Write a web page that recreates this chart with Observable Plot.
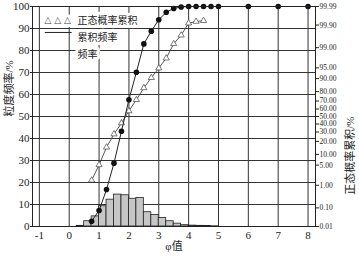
<!DOCTYPE html>
<html><head><meta charset="utf-8">
<script src="https://cdn.jsdelivr.net/npm/d3@7"></script>
<script src="https://cdn.jsdelivr.net/npm/@observablehq/plot@0.6"></script>
<style>body{margin:0;background:#fff}</style>
</head><body><div id="chart"></div>
<script>
// ---- data ----
const xTicks = [-1, 0, 1, 2, 3, 4, 5, 6, 7, 8];
const yTicks = [0, 10, 20, 30, 40, 50, 60, 70, 80, 90, 100];
const rightTicks = [0.01, 0.1, 1, 5, 10, 20, 30, 40, 50, 60, 70, 80, 90, 95, 99, 99.9, 99.99];

// frequency histogram (bin left edges, bin width 0.25 phi)
const freqPhi = [0.25, 0.5, 0.75, 1.0, 1.25, 1.5, 1.75, 2.0, 2.25, 2.5, 2.75, 3.0, 3.25, 3.5, 3.75, 4.0, 4.25, 4.5, 4.75];
const freqPct = [0.3, 2.4, 4.6, 9.2, 12.2, 14.5, 14.2, 12.6, 13.0, 6.5, 5.2, 3.9, 2.4, 1.3, 0.6, 0.4, 0.3, 0.2, 0.1];
const binWidth = 0.25;

// cumulative frequency (left axis)
const cumPhi = [0.75, 1.0, 1.25, 1.5, 1.75, 2.0, 2.25, 2.5, 2.75, 3.0, 3.25, 3.5, 3.75, 4.0, 4.25, 4.5, 4.75, 5, 6, 7, 8];
const cumPct = [2.4, 7.3, 16.8, 28.8, 43.3, 57.6, 70.1, 83.0, 88.8, 94.0, 97.4, 99.1, 99.8, 100, 100, 100, 100, 100, 100, 100, 100];

// normal probability cumulative (right, probability axis, %)
const normPhi = [0.75, 1.0, 1.25, 1.5, 1.75, 2.0, 2.25, 2.5, 2.75, 3.0, 3.25, 3.5, 3.75, 4.0, 4.25, 4.5];
const normPct = [1.55, 5.1, 14.9, 27.6, 41.2, 57.4, 71.4, 83.3, 90.5, 94.9, 97.56, 99.30, 99.70, 99.92, 99.934, 99.94];

// ---- probability scale helper ----
function probit(p) {
  const a=[-3.969683028665376e+01,2.209460984245205e+02,-2.759285104469687e+02,1.383577518672690e+02,-3.066479806614716e+01,2.506628277459239e+00];
  const b=[-5.447609879822406e+01,1.615858368580409e+02,-1.556989798598866e+02,6.680131188771972e+01,-1.328068155288572e+01];
  const c=[-7.784894002430293e-03,-3.223964580411365e-01,-2.400758277161838e+00,-2.549732539343734e+00,4.374664141464968e+00,2.938163982698783e+00];
  const d=[7.784695709041462e-03,3.224671290700398e-01,2.445134137142996e+00,3.754408661907416e+00];
  const pl = 0.02425, ph = 1 - pl;
  let q, r;
  if (p < pl) { q = Math.sqrt(-2*Math.log(p)); return (((((c[0]*q+c[1])*q+c[2])*q+c[3])*q+c[4])*q+c[5])/((((d[0]*q+d[1])*q+d[2])*q+d[3])*q+1); }
  if (p <= ph) { q = p - 0.5; r = q*q; return (((((a[0]*r+a[1])*r+a[2])*r+a[3])*r+a[4])*r+a[5])*q/(((((b[0]*r+b[1])*r+b[2])*r+b[3])*r+b[4])*r+1); }
  q = Math.sqrt(-2*Math.log(1-p)); return -(((((c[0]*q+c[1])*q+c[2])*q+c[3])*q+c[4])*q+c[5])/((((d[0]*q+d[1])*q+d[2])*q+d[3])*q+1);
}
const zMax = probit(0.9999);
const toLeft = p => 50 + 50 * probit(p / 100) / zMax;

const hist = freqPhi.map((x, i) => ({x1: x, x2: x + binWidth, y: freqPct[i]}));
const cum = cumPhi.map((x, i) => ({x, y: cumPct[i]}));
const norm = normPhi.map((x, i) => ({x, y: toLeft(normPct[i])}));
const rightMap = new Map(rightTicks.map(p => [toLeft(p), p.toFixed(2)]));

const serif = "Liberation Serif, DejaVu Serif, Noto Sans CJK SC, serif";
const ink = "#222";

const chart = Plot.plot({
  width: 359, height: 261,
  marginLeft: 32, marginRight: 44, marginTop: 6, marginBottom: 35,
  x: {domain: [-1.23, 8.25]},
  y: {domain: [0, 100]},
  style: {fontFamily: serif, background: "white", color: ink},
  marks: [
    Plot.ruleX(xTicks, {stroke: "#333", strokeWidth: 1}),
    Plot.ruleY(yTicks, {stroke: "#333", strokeWidth: 1}),
    Plot.rectY(hist, {x1: "x1", x2: "x2", y: "y", fill: "#c6c6c6", stroke: ink, strokeWidth: 0.8}),
    Plot.ruleY([0], {stroke: ink, strokeWidth: 1.2}),
    Plot.line(norm, {x: "x", y: "y", stroke: "#444", strokeWidth: 0.9}),
    Plot.dot(norm, {x: "x", y: "y", symbol: "triangle", r: 2.3, stroke: "#444", strokeWidth: 0.7, fill: "white"}),
    Plot.line(cum, {x: "x", y: "y", stroke: ink, strokeWidth: 1}),
    Plot.dot(cum, {x: "x", y: "y", r: 2.8, fill: "#111", stroke: "none"}),
    // legend
    Plot.text(["\u25B3 \u25B3 \u25B3"], {frameAnchor: "top-left", dx: 12, dy: 10, textAnchor: "start", fontSize: 9, fill: "#444", stroke: "white", strokeWidth: 6, fontFamily: "DejaVu Sans"}),
    Plot.text(["正态概率累积"], {frameAnchor: "top-left", dx: 45, dy: 10, textAnchor: "start", fontSize: 10, fill: ink, stroke: "white", strokeWidth: 6, fontFamily: serif}),
    Plot.ruleY([88.2], {x1: -0.8, x2: 0.1, stroke: ink, strokeWidth: 1}),
    Plot.text(["累积频率"], {frameAnchor: "top-left", dx: 45, dy: 27, textAnchor: "start", fontSize: 10, fill: ink, stroke: "white", strokeWidth: 6, fontFamily: serif}),
    Plot.text(["频率"], {frameAnchor: "top-left", dx: 45, dy: 44, textAnchor: "start", fontSize: 10, fill: ink, stroke: "white", strokeWidth: 6, fontFamily: serif}),
    Plot.frame({stroke: ink, strokeWidth: 1}),
    Plot.axisX({ticks: xTicks, tickSize: 0, tickPadding: 5, fontSize: 11, fontFamily: serif, tickFormat: d => String(d), label: null}),
    Plot.axisY({ticks: yTicks, tickSize: 2, tickPadding: 1, fontSize: 11, fontFamily: serif, label: null}),
    Plot.axisY({anchor: "right", ticks: rightTicks.map(toLeft), tickFormat: d => rightMap.get(d), tickSize: 3, tickPadding: 1, fontSize: 7.5, fontFamily: serif, label: null}),
    Plot.text(["φ值"], {frameAnchor: "bottom", dy: 23, fontSize: 11, fill: ink, fontFamily: serif}),
    Plot.text(["粒度频率/%"], {frameAnchor: "left", dx: -23, rotate: -90, fontSize: 11, fill: ink, fontFamily: serif}),
    Plot.text(["正态概率累积/%"], {frameAnchor: "right", dx: 35, rotate: -90, fontSize: 11, fill: ink, fontFamily: serif})
  ]
});
document.getElementById("chart").appendChild(chart);
</script>
</body></html>
